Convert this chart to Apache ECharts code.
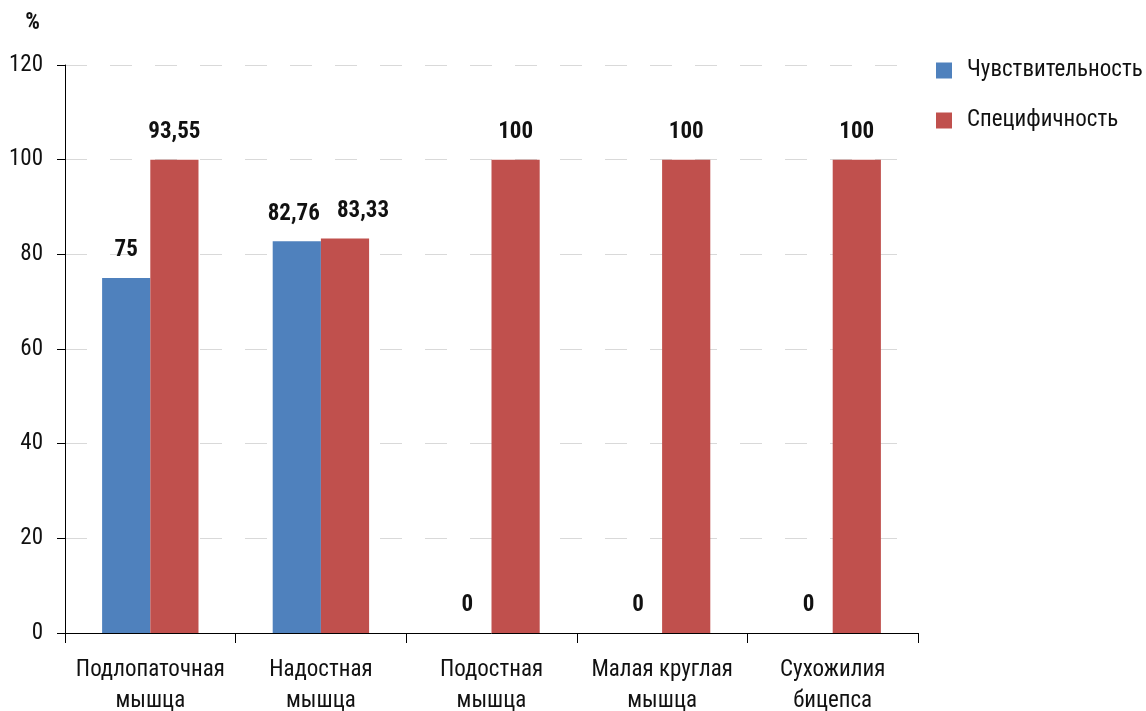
<!DOCTYPE html>
<html><head><meta charset="utf-8">
<script src="https://cdn.jsdelivr.net/npm/echarts@6/dist/echarts.min.js"></script>
<style>html,body{margin:0;padding:0;background:#fff}#c{width:1146px;height:711px}</style>
</head><body><div id="c"></div>
<script>
var categories = ['Подлопаточная\nмышца', 'Надостная\nмышца', 'Подостная\nмышца', 'Малая круглая\nмышца', 'Сухожилия\nбицепса'];
var sensitivity = [75, 82.76, 0, 0, 0];
var specificity = [100, 83.33, 100, 100, 100];
var sensitivityLabels = ['75', '82,76', '0', '0', '0'];
var specificityLabels = ['93,55', '83,33', '100', '100', '100'];
var seriesNames = ['Чувствительность', 'Специфичность'];

var FONT = '"Roboto Condensed", "DejaVu Sans Condensed", sans-serif';
var chart = echarts.init(document.getElementById('c'));
function lbl(arr){
  return {show:true, position:'top', distance:16, color:'#111', fontFamily:FONT, fontWeight:'bold', fontSize:23,
    formatter:function(p){return arr[p.dataIndex];}};
}
// nudge the two crowded labels of the second category apart, as in the reference
function withOffset(values, idx, dx){
  return values.map(function(v,i){
    return i === idx ? {value:v, label:{offset:[dx,0]}} : v;
  });
}
chart.setOption({
  animation:false,
  textStyle:{fontFamily:FONT},
  grid:{left:65, right:228, top:65, bottom:78, containLabel:false, outerBoundsMode:'none'},
  legend:{
    orient:'vertical', left:931, top:54, itemWidth:16, itemHeight:16, itemGap:27,
    icon:'rect',
    textStyle:{fontFamily:FONT, fontSize:23, color:'#111', padding:[0,0,0,10]},
    data:seriesNames
  },
  xAxis:{
    type:'category', data:categories,
    axisLine:{lineStyle:{color:'#000', width:1}},
    axisTick:{show:true, length:10, lineStyle:{color:'#000'}},
    axisLabel:{fontFamily:FONT, fontSize:23, color:'#111', lineHeight:31, margin:22, interval:0}
  },
  yAxis:{
    type:'value', min:0, max:120, interval:20,
    name:'%', nameLocation:'end', nameGap:0,
    nameTextStyle:{fontFamily:FONT, fontSize:23, fontWeight:'bold', color:'#111', align:'right', verticalAlign:'bottom', padding:[0,25,30,0]},
    axisLine:{show:true, lineStyle:{color:'#000', width:1}},
    axisTick:{show:true, length:8, lineStyle:{color:'#000'}},
    axisLabel:{fontFamily:FONT, fontSize:23, color:'#111', margin:22},
    splitLine:{show:true, lineStyle:{color:'#d9d9d9', type:[22,23], width:1}}
  },
  series:[
    {name:seriesNames[0], type:'bar', data:withOffset(sensitivity,1,-3), barGap:'0%', barCategoryGap:'43.5%',
     itemStyle:{color:'#4f81bd'}, label:lbl(sensitivityLabels)},
    {name:seriesNames[1], type:'bar', data:withOffset(specificity,1,18), barGap:'0%', barCategoryGap:'43.5%',
     itemStyle:{color:'#c0504d'}, label:lbl(specificityLabels)}
  ]
});
</script></body></html>
